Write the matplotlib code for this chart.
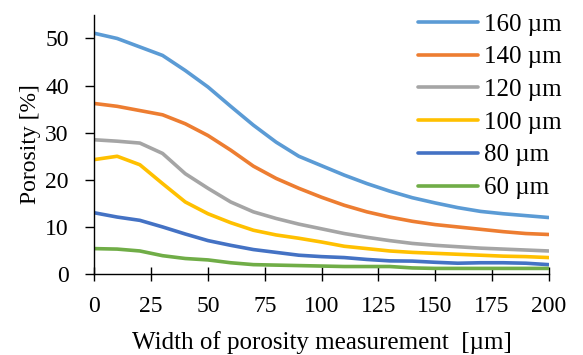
import matplotlib

matplotlib.use("Agg")
import matplotlib.pyplot as plt

# widths of porosity measurement [um]
width = [0, 10, 20, 30, 40, 50, 60, 70, 80, 90, 100,
         110, 120, 130, 140, 150, 160, 170, 180, 190, 200]

por_160 = [51.1, 50.0, 48.2, 46.4, 43.2, 39.7, 35.6, 31.6, 28.0, 25.0, 23.0,
           21.0, 19.2, 17.6, 16.2, 15.1, 14.1, 13.3, 12.8, 12.4, 12.0]
por_140 = [36.2, 35.6, 34.7, 33.8, 31.9, 29.4, 26.3, 22.9, 20.3, 18.2, 16.3,
           14.6, 13.2, 12.1, 11.2, 10.5, 10.0, 9.5, 9.0, 8.6, 8.4]
por_120 = [28.5, 28.2, 27.8, 25.6, 21.3, 18.2, 15.3, 13.2, 11.8, 10.6, 9.6,
           8.6, 7.8, 7.1, 6.5, 6.1, 5.8, 5.5, 5.3, 5.1, 4.9]
por_100 = [24.3, 25.0, 23.2, 19.2, 15.3, 12.8, 10.9, 9.3, 8.3, 7.6, 6.8,
           5.9, 5.4, 4.9, 4.6, 4.4, 4.2, 4.0, 3.8, 3.7, 3.5]
por_80 = [13.0, 12.1, 11.4, 10.0, 8.5, 7.1, 6.1, 5.2, 4.6, 4.0, 3.7,
          3.5, 3.1, 2.8, 2.75, 2.5, 2.3, 2.4, 2.4, 2.3, 2.0]
por_60 = [5.4, 5.3, 4.9, 3.9, 3.3, 3.0, 2.4, 2.0, 1.9, 1.8, 1.7,
          1.6, 1.6, 1.6, 1.3, 1.2, 1.2, 1.2, 1.2, 1.2, 1.2]

series = [
    ("160 µm", por_160, "#5B9BD5"),
    ("140 µm", por_140, "#ED7D31"),
    ("120 µm", por_120, "#A5A5A5"),
    ("100 µm", por_100, "#FFC000"),
    ("80 µm", por_80, "#4472C4"),
    ("60 µm", por_60, "#70AD47"),
]

plt.rcParams["font.family"] = ["Liberation Serif", "DejaVu Serif"]

fig = plt.figure(figsize=(5.83, 3.55), dpi=100)
ax = fig.add_axes([0.162, 0.228, 0.779, 0.73])

for label, vals, color in series:
    ax.plot(width, vals, color=color, lw=2.6, label=label, solid_capstyle="round")

ax.set_xlim(0, 200)
ax.set_ylim(0, 55)
ax.set_xticks(range(0, 201, 25))
ax.set_yticks(range(0, 51, 10))
ax.spines["top"].set_visible(False)
ax.spines["right"].set_visible(False)
ax.spines["left"].set_linewidth(1.0)
ax.spines["bottom"].set_linewidth(1.0)
ax.tick_params(axis="x", direction="inout", length=10, width=1.0, labelsize=17, pad=11)
ax.tick_params(axis="y", direction="out", length=6.5, width=1.0, labelsize=17, pad=12)

ax.set_xlabel("Width of porosity measurement  [µm]", fontsize=18, labelpad=10)
ax.set_ylabel("Porosity [%]", fontsize=17, labelpad=3)

ax.legend(loc="upper left", bbox_to_anchor=(418 / 583, 1 - 13 / 355),
          bbox_transform=fig.transFigure, frameon=False, fontsize=18,
          handlelength=2.4, handletextpad=0.25, labelspacing=0.41,
          borderpad=0, borderaxespad=0)

fig.savefig("out.png", dpi=100)
plt.close(fig)
